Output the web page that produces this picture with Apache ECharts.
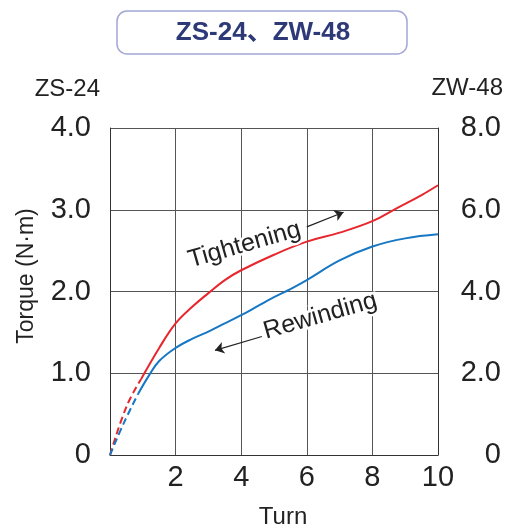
<!DOCTYPE html>
<html><head><meta charset="utf-8">
<script src="https://cdn.jsdelivr.net/npm/echarts@6/dist/echarts.min.js"></script>
<style>html,body{margin:0;padding:0;background:#fff}#c{width:510px;height:530px}</style>
</head><body><div id="c"></div>
<script>
// ---- data ----
const chartTitle = 'ZS-24、ZW-48';
const leftModel = 'ZS-24';
const rightModel = 'ZW-48';
const xName = 'Turn';
const yName = 'Torque (N·m)';
const xTickLabels = ['', '2', '4', '6', '8', '10'];
const leftTickLabels = ['0', '1.0', '2.0', '3.0', '4.0'];
const rightTickLabels = ['0', '2.0', '4.0', '6.0', '8.0'];
const tighteningDashed = [[0, 0], [0.5, 0.59], [0.95, 0.93]];
const tighteningSolid = [[0.95, 0.93], [1.5, 1.31], [2, 1.61], [2.5, 1.81], [3, 1.98], [3.5, 2.14], [4, 2.26], [5, 2.45], [6, 2.61], [7, 2.72], [8, 2.86], [8.75, 3.02], [9.5, 3.18], [10, 3.30]];
const rewindingDashed = [[0, 0], [0.42, 0.39], [0.86, 0.75]];
const rewindingSolid = [[0.86, 0.75], [1.2, 0.98], [1.5, 1.15], [2, 1.31], [2.5, 1.42], [3, 1.51], [3.5, 1.61], [4, 1.71], [4.5, 1.82], [5, 1.93], [5.5, 2.03], [6, 2.14], [7, 2.38], [8, 2.55], [9, 2.65], [10, 2.70]];
const tighteningLabel = { text: 'Tightening', at: [4.1, 2.57] };
const rewindingLabel = { text: 'Rewinding', at: [6.41, 1.70] };
const tighteningArrow = [[6.0, 2.79], [7.12, 2.97]];
const rewindingArrow = [[4.63, 1.45], [3.2, 1.28]];

const RED = '#e8262d', BLUE = '#1677c4';
const FONT = "'Liberation Sans', Arial, 'Noto Sans CJK JP', sans-serif";
const chart = echarts.init(document.getElementById('c'), null, { renderer: 'canvas' });

function lineSeries(data, color, dashed) {
  return {
    type: 'line', data: data, smooth: 0.4, symbol: 'none', yAxisIndex: 0,
    lineStyle: { color: color, width: 2, type: dashed ? [7, 4] : 'solid' },
    z: 3, silent: true
  };
}

const option = {
  animation: false,
  backgroundColor: '#fff',
  grid: { left: 110, right: 72, top: 128, bottom: 75 },
  xAxis: {
    type: 'value', min: 0, max: 10, interval: 2,
    axisLine: { show: true, lineStyle: { color: '#333', width: 1 } },
    axisTick: { show: false },
    splitLine: { show: true, lineStyle: { color: '#555', width: 1 } },
    axisLabel: { color: '#222', fontSize: 29, fontFamily: FONT, margin: 8,
      formatter: v => xTickLabels[Math.round(v / 2)] }
  },
  yAxis: [{
    type: 'value', min: 0, max: 4, interval: 1, position: 'left',
    axisLine: { show: true, lineStyle: { color: '#333', width: 1 } },
    axisTick: { show: false },
    splitLine: { show: true, lineStyle: { color: '#555', width: 1 } },
    axisLabel: { color: '#222', fontSize: 29, fontFamily: FONT, margin: 19,
      formatter: v => leftTickLabels[Math.round(v)] }
  }, {
    type: 'value', min: 0, max: 8, interval: 2, position: 'right',
    axisLine: { show: true, lineStyle: { color: '#333', width: 1 } },
    axisTick: { show: false },
    splitLine: { show: false },
    axisLabel: { color: '#222', fontSize: 29, fontFamily: FONT, margin: 63, align: 'right',
      formatter: v => rightTickLabels[Math.round(v / 2)] }
  }],
  series: [
    lineSeries(tighteningDashed, RED, true),
    lineSeries(tighteningSolid, RED, false),
    lineSeries(rewindingDashed, BLUE, true),
    lineSeries(rewindingSolid, BLUE, false),
    {
      type: 'lines', coordinateSystem: 'cartesian2d', xAxisIndex: 0, yAxisIndex: 0,
      symbol: ['none', 'arrow'], symbolSize: [0, 9], silent: true, z: 5,
      lineStyle: { color: '#222', width: 1.2, opacity: 1, curveness: 0 },
      data: [{ coords: tighteningArrow }, { coords: rewindingArrow }]
    }
  ]
};
chart.setOption(option);

const p1 = chart.convertToPixel({ gridIndex: 0 }, tighteningLabel.at);
const p2 = chart.convertToPixel({ gridIndex: 0 }, rewindingLabel.at);
const ang = 16 * Math.PI / 180;
chart.setOption({
  graphic: [
    { type: 'rect', shape: { x: 117, y: 11, width: 290, height: 43, r: 10 },
      style: { fill: '#fff', stroke: '#a3a7d3', lineWidth: 1.5 }, z: 10 },
    { type: 'text', x: 263, y: 33, z: 11,
      style: { text: chartTitle, fill: '#2e3a78', font: "bold 26px " + FONT, align: 'center', verticalAlign: 'middle' } },
    { type: 'text', x: 100, y: 89, z: 11,
      style: { text: leftModel, fill: '#222', font: "24px " + FONT, align: 'right', verticalAlign: 'middle' } },
    { type: 'text', x: 503, y: 88, z: 11,
      style: { text: rightModel, fill: '#222', font: "24px " + FONT, align: 'right', verticalAlign: 'middle' } },
    { type: 'text', x: 283, y: 517, z: 11,
      style: { text: xName, fill: '#222', font: "24px " + FONT, align: 'center', verticalAlign: 'middle' } },
    { type: 'text', x: 27, y: 276, rotation: Math.PI / 2, z: 11,
      style: { text: yName, fill: '#222', font: "23px " + FONT, align: 'center', verticalAlign: 'middle' } },
    { type: 'text', x: p1[0], y: p1[1], rotation: ang, z: 4,
      style: { text: tighteningLabel.text, fill: '#222', font: "25px " + FONT, align: 'center', verticalAlign: 'middle', stroke: '#fff', lineWidth: 5 } },
    { type: 'text', x: p2[0], y: p2[1], rotation: ang, z: 4,
      style: { text: rewindingLabel.text, fill: '#222', font: "25px " + FONT, align: 'center', verticalAlign: 'middle', stroke: '#fff', lineWidth: 5 } }
  ]
});
</script>
</body></html>
